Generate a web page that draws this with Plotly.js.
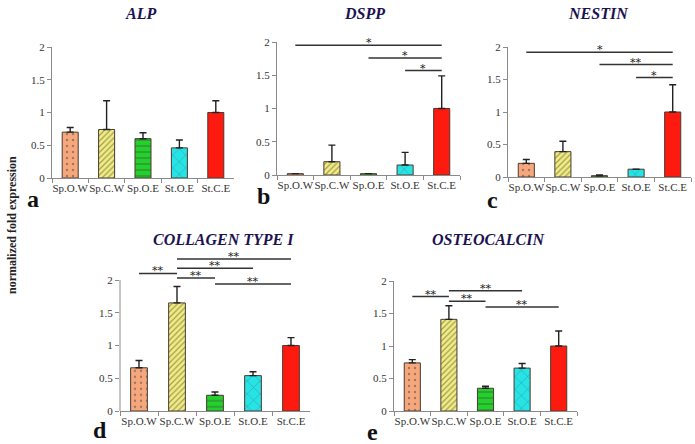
<!DOCTYPE html>
<html><head><meta charset="utf-8">
<script src="https://cdn.plot.ly/plotly-3.0.1.min.js"></script>
<style>html,body{margin:0;padding:0;background:#fff}#chart{width:695px;height:444px}</style>
</head><body><div id="chart"></div>
<script>
// ---- data ----
const categories = ["Sp.O.W", "Sp.C.W", "Sp.O.E", "St.O.E", "St.C.E"];
const panelTitles = ["ALP", "DSPP", "NESTIN", "COLLAGEN TYPE I", "OSTEOCALCIN"];
const panelLetters = ["a", "b", "c", "d", "e"];
const alpValues = [0.70, 0.74, 0.60, 0.46, 1.00];
const alpErrors = [0.07, 0.44, 0.09, 0.12, 0.18];
const dsppValues = [0.02, 0.20, 0.02, 0.15, 1.00];
const dsppErrors = [0.00, 0.25, 0.00, 0.19, 0.49];
const nestinValues = [0.21, 0.39, 0.02, 0.12, 1.00];
const nestinErrors = [0.06, 0.16, 0.01, 0.00, 0.42];
const collagenValues = [0.66, 1.65, 0.24, 0.54, 1.00];
const collagenErrors = [0.11, 0.25, 0.05, 0.06, 0.12];
const osteocalcinValues = [0.74, 1.41, 0.35, 0.66, 1.00];
const osteocalcinErrors = [0.05, 0.21, 0.03, 0.07, 0.23];
// significance comparisons: [from index, to index, height, label]
const alpSig = [];
const dsppSig = [[0, 4, 1.95, "*"], [2, 4, 1.76, "*"], [3, 4, 1.57, "*"]];
const nestinSig = [[0, 4, 1.92, "*"], [2, 4, 1.73, "**"], [3, 4, 1.53, "*"]];
const collagenSig = [[0, 1, 2.10, "**"], [1, 4, 2.32, "**"], [1, 3, 2.18, "**"], [1, 2, 2.03, "**"], [2, 4, 1.94, "**"]];
const osteocalcinSig = [[0, 1, 1.76, "**"], [1, 3, 1.85, "**"], [1, 2, 1.69, "**"], [2, 4, 1.60, "**"]];
const yTickVals = [0, 0.5, 1, 1.5, 2];
const yTickText = ["0", "0.5", "1", "1.5", "2"];

// ---- styling ----
const fillColors = ["#f7a77c", "#f3ee7e", "#22d12a", "#26e3e6", "#ff1a10"];
const patShapes = [".", "/", "-", "x", ""];
const patFg = ["#7a4a30", "#555030", "#137a16", "#1a6a70", "#ff1a10"];
const patSize = [6, 4, 6, 9, 8];
const patSolidity = [0.12, 0.3, 0.22, 0.1, 0.3];
const W = 695, H = 444;
const serif = "Liberation Serif, Times New Roman, serif";

// pixel layout of each panel: [x0, x1, yZeroPx, yTwoPx, yMax]
const panels = [
  [52, 234, 178, 47, 2],
  [277, 460, 175, 42, 2],
  [508, 691, 177, 47, 2],
  [120, 310, 411, 280, 2.4],
  [394, 577, 411, 281, 2]
];
const values = [alpValues, dsppValues, nestinValues, collagenValues, osteocalcinValues];
const errors = [alpErrors, dsppErrors, nestinErrors, collagenErrors, osteocalcinErrors];
const sigs = [alpSig, dsppSig, nestinSig, collagenSig, osteocalcinSig];
const titlePos = [[140, 13], [365, 13], [598, 13], [223, 239], [488, 239]];
const letterPos = [[33, 199], [263, 196], [492, 200], [100, 430], [372, 432]];

const data = [];
const layout = {
  width: W, height: H, margin: {l: 0, r: 0, t: 0, b: 0},
  paper_bgcolor: "#fff", plot_bgcolor: "rgba(0,0,0,0)",
  showlegend: false,
  font: {family: serif, color: "#333", size: 11},
  shapes: [], annotations: []
};

panels.forEach((p, i) => {
  const n = i + 1;
  const xa = "x" + (n === 1 ? "" : n), ya = "y" + (n === 1 ? "" : n);
  const xk = "xaxis" + (n === 1 ? "" : n), yk = "yaxis" + (n === 1 ? "" : n);
  const perUnit = (p[2] - p[3]) / 2;
  const topPx = p[2] - perUnit * p[4];
  data.push({
    type: "bar", x: categories, y: values[i], xaxis: xa, yaxis: ya,
    width: 0.44,
    marker: {
      color: fillColors,
      line: {color: "#4a3a30", width: 1},
      pattern: {fillmode: "overlay", shape: patShapes, fgcolor: patFg, size: patSize, solidity: patSolidity}
    },
    error_y: {type: "data", symmetric: false, array: errors[i], arrayminus: errors[i].map(() => 0),
      color: "#222", thickness: 1.4, width: 3.5},
    hoverinfo: "skip"
  });
  layout[xk] = {
    domain: [p[0] / W, p[1] / W], anchor: ya, type: "category",
    showline: true, linecolor: "#8a8a8a", linewidth: 1,
    ticks: "outside", tickson: "boundaries", ticklen: 4, tickcolor: "#8a8a8a",
    tickangle: 0,
    showgrid: false, zeroline: false, fixedrange: true,
    tickfont: {family: serif, size: 11, color: "#333"}
  };
  layout[yk] = {
    domain: [1 - p[2] / H, 1 - topPx / H], anchor: xa, range: [0, p[4]],
    showline: p[4] === 2, linecolor: "#8a8a8a", linewidth: 1,
    ticks: "outside", ticklen: 4, tickcolor: "#8a8a8a",
    tickvals: yTickVals, ticktext: yTickText,
    showgrid: false, zeroline: false, fixedrange: true,
    tickfont: {family: serif, size: 11, color: "#333"}
  };
  if (p[4] !== 2) {
    layout.shapes.push({type: "line", xref: xa + " domain", yref: ya, x0: 0, x1: 0, y0: 0, y1: 2,
      line: {color: "#8a8a8a", width: 1}});
  }
  sigs[i].forEach(s => {
    layout.shapes.push({type: "line", xref: xa, yref: ya, x0: s[0], x1: s[1], y0: s[2], y1: s[2],
      line: {color: "#333", width: 1.5}});
    layout.annotations.push({xref: xa, yref: ya, x: (s[0] + s[1]) / 2, y: s[2], text: s[3],
      showarrow: false, yanchor: "bottom", yshift: -6,
      font: {family: "DejaVu Serif, serif", size: 11, color: "#222222"}});
  });
  layout.annotations.push({xref: "paper", yref: "paper", x: titlePos[i][0] / W, y: 1 - titlePos[i][1] / H,
    text: "<b><i>" + panelTitles[i] + "</i></b>", showarrow: false, xanchor: "center", yanchor: "middle",
    font: {family: serif, size: 16, color: "#1c1250"}});
  layout.annotations.push({xref: "paper", yref: "paper", x: letterPos[i][0] / W, y: 1 - letterPos[i][1] / H,
    text: "<b>" + panelLetters[i] + "</b>", showarrow: false, xanchor: "center", yanchor: "middle",
    font: {family: serif, size: 24, color: "#111"}});
});

layout.annotations.push({xref: "paper", yref: "paper", x: 12 / W, y: 1 - 225 / H,
  text: "<b>normalized fold expression</b>", textangle: -90, showarrow: false,
  xanchor: "center", yanchor: "middle", font: {family: serif, size: 12, color: "#222"}});

Plotly.newPlot("chart", data, layout, {displayModeBar: false, staticPlot: true});
</script></body></html>
